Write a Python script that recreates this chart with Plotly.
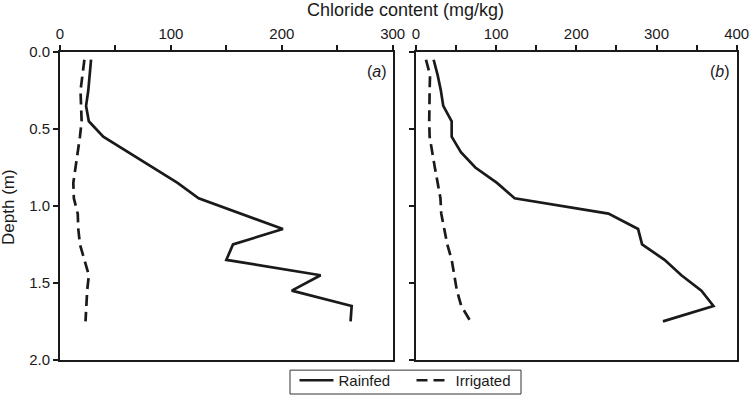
import plotly.graph_objects as go

depth = [0.05, 0.15, 0.25, 0.35, 0.45, 0.55, 0.65, 0.75, 0.85, 0.95,
         1.05, 1.15, 1.25, 1.35, 1.45, 1.55, 1.65, 1.75]

# Panel (a)
rainfed_a = [28, 27, 25.5, 23.5, 26, 39, 61.5, 84, 106, 125,
             163, 201, 156, 150, 235, 209, 263, 262]
irrigated_a = [22, 20, 18.5, 19, 19.5, 18, 16, 14, 12, 12.5,
               16, 16.5, 18, 22, 26, 24.5, 23.5, 23]

# Panel (b)
rainfed_b = [22, 27, 31, 34, 44.5, 44.5, 56, 74, 101, 123,
             240, 277, 282, 310, 331, 356, 371, 308]
irrigated_b = [12.5, 17.5, 17, 16.5, 16.5, 17, 20, 23.5, 27, 30.5,
               31.5, 35, 39, 44.5, 47.5, 51, 56.5, 68]

x_ticks_a = [0, 100, 200, 300]
x_ticks_b = [0, 100, 200, 300, 400]
y_ticks = [0.0, 0.5, 1.0, 1.5, 2.0]

FONT = "Liberation Sans, Arial, sans-serif"
INK = "#1a1a1a"
LW = 2.7
DASH = "11px,6px"

fig = go.Figure()
fig.add_trace(go.Scatter(x=rainfed_a, y=depth, mode="lines", name="Rainfed",
                         line=dict(color=INK, width=LW), xaxis="x", yaxis="y"))
fig.add_trace(go.Scatter(x=irrigated_a, y=depth, mode="lines", name="Irrigated",
                         line=dict(color=INK, width=LW, dash=DASH), xaxis="x", yaxis="y"))
fig.add_trace(go.Scatter(x=rainfed_b, y=depth, mode="lines", name="Rainfed",
                         line=dict(color=INK, width=LW), xaxis="x2", yaxis="y2",
                         showlegend=False))
fig.add_trace(go.Scatter(x=irrigated_b, y=depth, mode="lines", name="Irrigated",
                         line=dict(color=INK, width=LW, dash=DASH), xaxis="x2", yaxis="y2",
                         showlegend=False))

W, H = 750, 397
ydom = [1 - 361.7 / H, 1 - 52.3 / H]

common_x = dict(side="top", showgrid=False, zeroline=False, showline=True,
                linecolor=INK, linewidth=2, mirror=True, ticks="outside",
                ticklen=5, tickwidth=1.5, tickcolor=INK,
                tickfont=dict(family=FONT, size=15, color=INK),
                minor=dict(ticks="outside", dtick=50, ticklen=5, tickwidth=1.5,
                           tickcolor=INK, showgrid=False),
                automargin=False, fixedrange=True)
common_y = dict(range=[2, 0], showgrid=False, zeroline=False, showline=True,
                linecolor=INK, linewidth=2, mirror=True, ticks="outside",
                ticklen=5, tickwidth=1.5, tickcolor=INK, tickvals=y_ticks,
                tickformat=".1f", tickfont=dict(family=FONT, size=15, color=INK),
                automargin=False, fixedrange=True)

fig.update_layout(
    width=W, height=H,
    margin=dict(l=0, r=0, t=0, b=0),
    paper_bgcolor="white", plot_bgcolor="white",
    xaxis=dict(common_x, domain=[60 / W, 392.7 / W], range=[0, 300],
               tickvals=x_ticks_a, anchor="y"),
    yaxis=dict(common_y, domain=ydom, anchor="x"),
    xaxis2=dict(common_x, domain=[416 / W, 736.7 / W], range=[0, 400],
                tickvals=x_ticks_b, anchor="y2"),
    yaxis2=dict(common_y, domain=ydom, anchor="x2", showticklabels=False),
    showlegend=True,
    legend=dict(orientation="h", x=411.5 / W, xanchor="center", y=1 - 366 / H, yanchor="top",
                borderwidth=0, bgcolor="rgba(0,0,0,0)",
                itemwidth=34, entrywidth=68, entrywidthmode="pixels",
                font=dict(family=FONT, size=15, color=INK)),
    shapes=[
        dict(type="rect", xref="paper", yref="paper",
             x0=290 / W, x1=521 / W, y0=1 - 396 / H, y1=1 - 372 / H,
             line=dict(color="#333333", width=1), fillcolor="white", layer="below"),
    ],
    annotations=[
        dict(text="Chloride content (mg/kg)", x=405 / W, y=1 - 10 / H,
             xanchor="center", yanchor="middle",
             xref="paper", yref="paper", showarrow=False,
             font=dict(family=FONT, size=18, color=INK)),
        dict(text="Depth (m)", x=9 / W, y=1 - 208 / H, textangle=-90,
             xanchor="center", yanchor="middle",
             xref="paper", yref="paper", showarrow=False,
             font=dict(family=FONT, size=17, color=INK)),
        dict(text="(<i>a</i>)", x=377 / W, y=1 - 72 / H,
             xanchor="center", yanchor="middle",
             xref="paper", yref="paper", showarrow=False,
             font=dict(family=FONT, size=16, color=INK)),
        dict(text="(<i>b</i>)", x=720 / W, y=1 - 72 / H,
             xanchor="center", yanchor="middle",
             xref="paper", yref="paper", showarrow=False,
             font=dict(family=FONT, size=16, color=INK)),
    ],
)

fig.write_html("out.html", config={"displayModeBar": False},
               post_script="document.body.style.margin='0';document.body.style.overflow='hidden';")
